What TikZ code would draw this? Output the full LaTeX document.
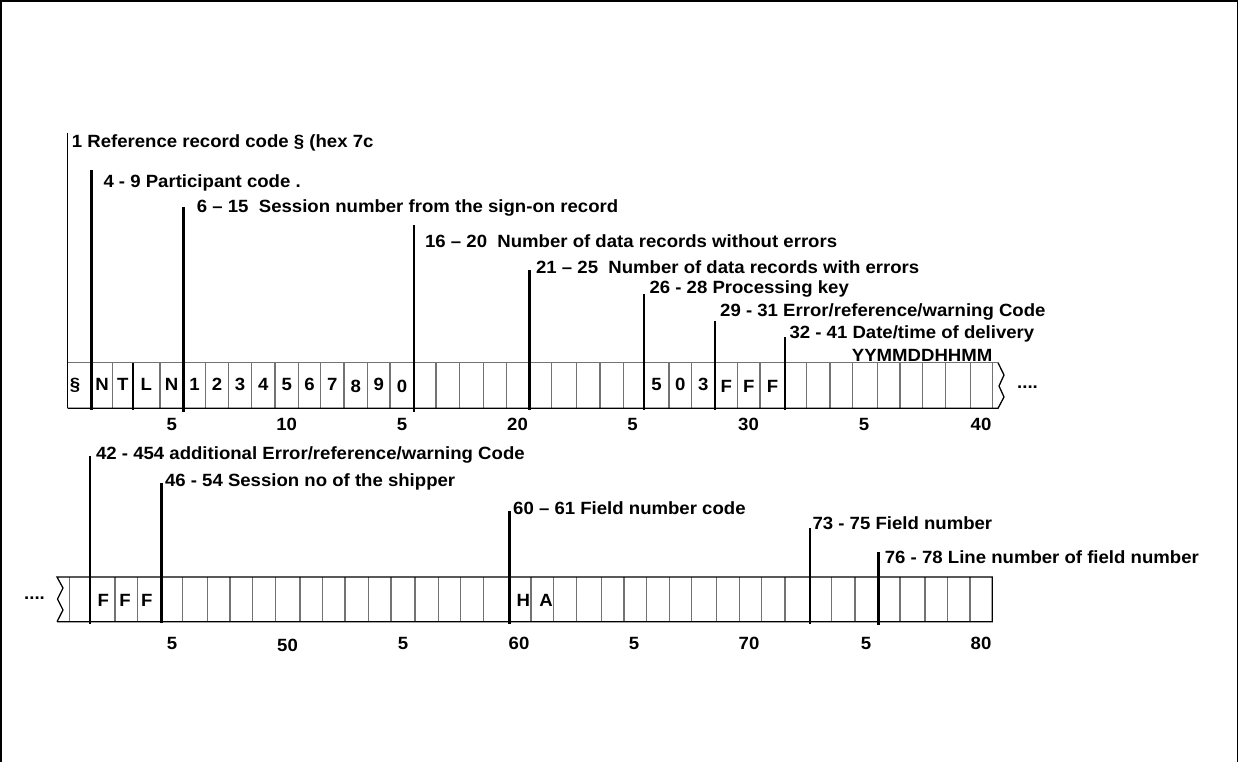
\documentclass[tikz,border=0pt]{standalone}
\usepackage{fontspec}
\setmainfont[FakeStretch=1.05]{Liberation Sans}
\newcommand\lblfont{\fontsize{17.7pt}{20pt}\selectfont\bfseries}
\tikzset{
  lbl/.style={anchor=base west, inner sep=0pt, font=\lblfont},
  celltext/.style={anchor=base, inner sep=0pt, font=\lblfont},
  ticktext/.style={anchor=base, inner sep=0pt, font=\lblfont},
  pointer/.style={line width=2.8pt, line cap=rect},
  thinpointer/.style={line width=1.1pt},
  divider/.style={line width=1.3pt, draw=black!55},
  darkdivider/.style={line width=1.6pt, draw=black},
  edgeline/.style={line width=1.3pt, draw=black},
  frameline/.style={line width=1.4pt, draw=black},
}
\begin{document}
\begin{tikzpicture}[x=1pt,y=-1pt]
\useasboundingbox (0,0) rectangle (1239,762);
\draw[frameline] (1,1) rectangle (1237.5,820);

% ---------------- Row 1 ----------------
\foreach \x in {91.7,112.7,160,183.3,205.7,228.3,251.7,275,298.3,320.7,344,367.3,390,414,436,459.3,483.3,506.7,529.3,551.7,576.7,600,623.3,644,669,691.7,715,737.7,760,785,806.7,830,852.7,877.3,900,922.7,945.7,970.7,992.7}
  \draw[divider] (\x,362.7) -- (\x,408.3);
\draw[darkdivider] (132.7,362.7) -- (132.7,409.5);
\draw[divider] (67.7,362.7) -- (998,362.7);
\draw[edgeline] (998,362.7) -- (1004,375) -- (999,386) -- (1004,397) -- (998,408.3) -- (67.7,408.3);
\node[lbl] (dotsA) at (1017,388) {....};

% cell contents row 1
\foreach \x/\c in {75/§,102.2/N,122.7/T,146.3/L,171.7/N,194.5/1,217/2,240/3,263.3/4,286.7/5,309.5/6,332.3/7,378.7/9,656.5/5,680.3/0,703.3/3}
  \node[celltext] at (\x,390) {\c};
\node[celltext] (c13) at (355.7,392) {8};
\node[celltext] (c15) at (402,392) {0};
\foreach \x in {726.3,748.8,772.5}
  \node[celltext] at (\x,392) {F};

% ticks row 1
\foreach \x/\t in {171.7/5,286.7/10,402/5,517.5/20,632.5/5,748.5/30,864/5,981/40}
  \node[ticktext] at (\x,430.7) {\t};

% pointers row 1
\coordinate (p1t) at (67.7,132.7); \coordinate (p1b) at (67.7,408.3);
\draw[thinpointer] (p1t) -- (p1b);
\foreach \n/\x/\t/\b in {p2/91.7/171.7/408.3, p3/183.3/208.3/410.5, p4/414/226/410.5, p5/529.3/271/408.3, p6/644/295/408.3, p7/715/322/408.3, p8/785/338.3/408.3}{
  \coordinate (\n t) at (\x,\t);
  \coordinate (\n b) at (\x,\b);
  \draw[pointer] (\n t) -- (\n b);
}

% labels row 1
\node[lbl] (l1) at (71.7,147.7) {1 Reference record code § (hex 7c};
\node[lbl] (l2) at (103.3,187.7) {4 - 9 Participant code .};
\node[lbl] (l3) at (196.7,212.7) {6 – 15~~Session number from the sign-on record};
\node[lbl] (l4) at (424.9,247.5) {16 – 20~~Number of data records without errors};
\node[lbl] (l5) at (535.9,273.5) {21 – 25~~Number of data records with errors};
\node[lbl] (l6) at (649.3,293.3) {26 - 28 Processing key};
\node[lbl] (l7) at (720,316.7) {29 - 31 Error/reference/warning Code};
\node[lbl] (l8) at (789.3,338.3) {32 - 41 Date/time of delivery};
\node[lbl] (l9) at (851.7,361.7) {YYMMDDHHMM};

% ---------------- Row 2 ----------------
\foreach \x in {69.3,90,115,137.7,161.7,182.7,207.7,230,252.7,275.7,300,322.3,345,368.3,391,415,438.3,460.7,483.3,509.3,531,553.3,576.7,601.7,624,646.7,669.3,691.7,716.7,739.3,761.7,785,810,831.7,855,878.3,900,925,947.7,970}
  \draw[divider] (\x,577) -- (\x,621.7);
\draw[edgeline] (57,621.7) -- (63,610) -- (57.5,599) -- (63,588) -- (57,577) -- (992.3,577) -- (992.3,621.7) -- (57,621.7);
\node[lbl] (dotsB) at (24,599.5) {....};

% cell contents row 2
\foreach \x/\c in {103.3/F,125/F,146.7/F,523.3/H,546/A}
  \node[celltext] at (\x,606.7) {\c};

% ticks row 2
\foreach \x/\t in {172/5,403/5,519/60,634/5,749/70,866/5,981/80}
  \node[ticktext] at (\x,649) {\t};
\node[ticktext] (t50) at (287.5,651.7) {50};

% pointers row 2
\foreach \n/\x/\t/\b in {q1/90/457/623, q2/161.7/484/621.7, q3/509.3/512/623, q4/810/529/623, q5/878.3/553/624}{
  \coordinate (\n t) at (\x,\t);
  \coordinate (\n b) at (\x,\b);
  \draw[pointer] (\n t) -- (\n b);
}

% labels row 2
\node[lbl] (m1) at (95.9,459.5) {42 - 454 additional Error/reference/warning Code};
\node[lbl] (m2) at (164.8,486.5) {46 - 54 Session no of the shipper};
\node[lbl] (m3) at (513,514.5) {60 – 61 Field number code};
\node[lbl] (m4) at (812.3,529.5) {73 - 75 Field number};
\node[lbl] (m5) at (884.7,563) {76 - 78 Line number of field number};
\end{tikzpicture}
\end{document}
